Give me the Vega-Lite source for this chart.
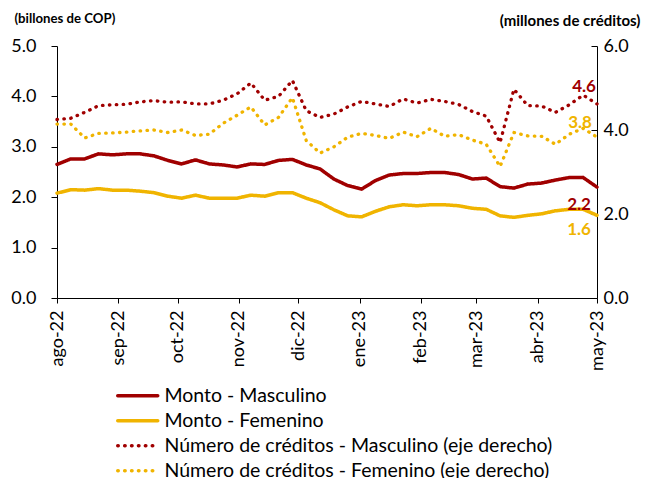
{
  "$schema": "https://vega.github.io/schema/vega-lite/v6.json",
  "width": 540,
  "height": 252,
  "autosize": {"type": "none"},
  "padding": {"left": 57, "top": 46, "right": 49, "bottom": 180},
  "background": "white",
  "config": {
    "view": {"stroke": null},
    "font": "Lato",
    "axis": {"grid": false, "domainColor": "black", "tickColor": "black", "labelColor": "black", "labelFont": "Lato", "labelFontSize": 18, "titleFont": "Lato", "titleColor": "black", "domainWidth": 1, "tickWidth": 1},
    "legend": {"labelFont": "Lato", "labelFontSize": 19.5, "labelColor": "black"}
  },
  "data": {
    "values": [
      {"d": "2022/08/01", "MM": 2.65, "MF": 2.08, "NM": 4.25, "NF": 4.14},
      {"d": "2022/08/08", "MM": 2.76, "MF": 2.15, "NM": 4.28, "NF": 4.14},
      {"d": "2022/08/15", "MM": 2.76, "MF": 2.14, "NM": 4.42, "NF": 3.81},
      {"d": "2022/08/22", "MM": 2.86, "MF": 2.17, "NM": 4.58, "NF": 3.92},
      {"d": "2022/08/29", "MM": 2.84, "MF": 2.14, "NM": 4.60, "NF": 3.93},
      {"d": "2022/09/05", "MM": 2.86, "MF": 2.14, "NM": 4.61, "NF": 3.95},
      {"d": "2022/09/12", "MM": 2.86, "MF": 2.12, "NM": 4.67, "NF": 3.98},
      {"d": "2022/09/19", "MM": 2.82, "MF": 2.09, "NM": 4.70, "NF": 4.00},
      {"d": "2022/09/26", "MM": 2.73, "MF": 2.02, "NM": 4.66, "NF": 3.94},
      {"d": "2022/10/03", "MM": 2.66, "MF": 1.98, "NM": 4.67, "NF": 4.00},
      {"d": "2022/10/10", "MM": 2.74, "MF": 2.04, "NM": 4.62, "NF": 3.87},
      {"d": "2022/10/17", "MM": 2.66, "MF": 1.98, "NM": 4.62, "NF": 3.90},
      {"d": "2022/10/24", "MM": 2.64, "MF": 1.98, "NM": 4.71, "NF": 4.16},
      {"d": "2022/10/31", "MM": 2.60, "MF": 1.98, "NM": 4.86, "NF": 4.35},
      {"d": "2022/11/07", "MM": 2.66, "MF": 2.04, "NM": 5.12, "NF": 4.55},
      {"d": "2022/11/14", "MM": 2.65, "MF": 2.02, "NM": 4.71, "NF": 4.12},
      {"d": "2022/11/21", "MM": 2.73, "MF": 2.09, "NM": 4.80, "NF": 4.30},
      {"d": "2022/11/28", "MM": 2.75, "MF": 2.09, "NM": 5.18, "NF": 4.77},
      {"d": "2022/12/05", "MM": 2.64, "MF": 1.98, "NM": 4.46, "NF": 3.75},
      {"d": "2022/12/12", "MM": 2.56, "MF": 1.89, "NM": 4.30, "NF": 3.45},
      {"d": "2022/12/19", "MM": 2.36, "MF": 1.75, "NM": 4.38, "NF": 3.60},
      {"d": "2022/12/26", "MM": 2.23, "MF": 1.63, "NM": 4.55, "NF": 3.83},
      {"d": "2023/01/02", "MM": 2.16, "MF": 1.61, "NM": 4.68, "NF": 3.92},
      {"d": "2023/01/09", "MM": 2.33, "MF": 1.72, "NM": 4.62, "NF": 3.87},
      {"d": "2023/01/16", "MM": 2.44, "MF": 1.81, "NM": 4.56, "NF": 3.80},
      {"d": "2023/01/23", "MM": 2.47, "MF": 1.85, "NM": 4.74, "NF": 3.95},
      {"d": "2023/01/30", "MM": 2.47, "MF": 1.83, "NM": 4.64, "NF": 3.84},
      {"d": "2023/02/06", "MM": 2.49, "MF": 1.85, "NM": 4.73, "NF": 4.04},
      {"d": "2023/02/13", "MM": 2.49, "MF": 1.85, "NM": 4.68, "NF": 3.85},
      {"d": "2023/02/20", "MM": 2.45, "MF": 1.83, "NM": 4.61, "NF": 3.89},
      {"d": "2023/02/27", "MM": 2.36, "MF": 1.78, "NM": 4.44, "NF": 3.76},
      {"d": "2023/03/06", "MM": 2.38, "MF": 1.76, "NM": 4.33, "NF": 3.66},
      {"d": "2023/03/13", "MM": 2.21, "MF": 1.63, "NM": 3.70, "NF": 3.13},
      {"d": "2023/03/20", "MM": 2.18, "MF": 1.60, "NM": 4.97, "NF": 3.94},
      {"d": "2023/03/27", "MM": 2.26, "MF": 1.64, "NM": 4.58, "NF": 3.86},
      {"d": "2023/04/03", "MM": 2.28, "MF": 1.67, "NM": 4.57, "NF": 3.85},
      {"d": "2023/04/10", "MM": 2.34, "MF": 1.73, "NM": 4.42, "NF": 3.66},
      {"d": "2023/04/17", "MM": 2.39, "MF": 1.76, "NM": 4.60, "NF": 3.90},
      {"d": "2023/04/24", "MM": 2.39, "MF": 1.76, "NM": 4.83, "NF": 4.04},
      {"d": "2023/05/01", "MM": 2.20, "MF": 1.64, "NM": 4.62, "NF": 3.83}
    ]
  },
  "transform": [{"fold": ["MM", "MF", "NM", "NF"], "as": ["k", "v"]}],
  "encoding": {
    "x": {
      "field": "d", "type": "temporal",
      "scale": {"domain": [{"year": 2022, "month": 8, "date": 1}, {"year": 2023, "month": 5, "date": 1}]},
      "axis": {
        "title": null, "tickCount": {"interval": "month", "step": 1}, "labelAngle": -90, "tickSize": 5, "labelPadding": 7,
        "labelExpr": "['ene','feb','mar','abr','may','jun','jul','ago','sep','oct','nov','dic'][month(datum.value)] + '-' + timeFormat(datum.value, '%y')",
        "labelFlush": false, "labelOverlap": false
      }
    }
  },
  "layer": [
    {
      "transform": [{"filter": {"field": "k", "oneOf": ["MM", "MF"]}}],
      "encoding": {
        "y": {
          "field": "v", "type": "quantitative",
          "scale": {"domain": [0, 5], "nice": false, "zero": true},
          "axis": {
            "values": [0, 1, 2, 3, 4, 5], "format": ".1f", "tickSize": 6, "labelPadding": 15,
            "title": "(billones de COP)", "titleAngle": 0, "titleAlign": "left", "titleBaseline": "middle",
            "titleX": -43, "titleY": -28, "titleFontSize": 13.2, "titleFontWeight": "bold"
          }
        }
      },
      "layer": [
        {
          "mark": {"type": "line", "strokeWidth": 3.5, "strokeCap": "round", "strokeJoin": "round"},
          "encoding": {
            "color": {"field": "k", "type": "nominal", "scale": {"domain": ["MM", "MF", "NM", "NF"], "range": ["#A00000", "#F0B400", "#A00000", "#F0B400"]},
              "legend": {
                "orient": "none", "legendX": 71, "legendY": 340, "title": null, "direction": "vertical",
                "symbolType": "M-4,0H4", "symbolSize": 100, "symbolStrokeWidth": 3.5, "labelOffset": 17, "rowPadding": 4,
                "labelExpr": "{'MM': 'Monto - Masculino', 'MF': 'Monto - Femenino', 'NM': 'Número de créditos - Masculino (eje derecho)', 'NF': 'Número de créditos - Femenino (eje derecho)'}[datum.value]",
                "labelLimit": 600,
                "encode": {"symbols": {"update": {"strokeCap": {"value": "round"}}}}
              }},
            "strokeDash": {"field": "k", "type": "nominal", "scale": {"domain": ["MM", "MF", "NM", "NF"], "range": [[1, 0], [1, 0], [0.5, 6.4], [0.5, 6.4]]},
              "legend": {
                "orient": "none", "legendX": 71, "legendY": 340, "title": null, "direction": "vertical",
                "symbolType": "M-4,0H4", "symbolSize": 100, "symbolStrokeWidth": 3.5, "labelOffset": 17, "rowPadding": 4,
                "labelExpr": "{'MM': 'Monto - Masculino', 'MF': 'Monto - Femenino', 'NM': 'Número de créditos - Masculino (eje derecho)', 'NF': 'Número de créditos - Femenino (eje derecho)'}[datum.value]",
                "labelLimit": 600,
                "encode": {"symbols": {"update": {"strokeCap": {"value": "round"}}}}
              }}
          }
        },
        {
          "transform": [{"filter": "datum.k == 'MM' && year(datum.d) == 2023 && month(datum.d) == 4"}],
          "mark": {"type": "text", "fontWeight": "bold", "fontSize": 17, "color": "#A00000", "dx": -18, "dy": 18},
          "encoding": {"text": {"field": "v", "type": "quantitative", "format": ".1f"}}
        },
        {
          "transform": [{"filter": "datum.k == 'MF' && year(datum.d) == 2023 && month(datum.d) == 4"}],
          "mark": {"type": "text", "fontWeight": "bold", "fontSize": 17, "color": "#F0B400", "dx": -18, "dy": 15},
          "encoding": {"text": {"field": "v", "type": "quantitative", "format": ".1f"}}
        }
      ]
    },
    {
      "transform": [{"filter": {"field": "k", "oneOf": ["NM", "NF"]}}],
      "encoding": {
        "y": {
          "field": "v", "type": "quantitative",
          "scale": {"domain": [0, 6], "nice": false, "zero": true},
          "axis": {
            "orient": "right", "values": [0, 2, 4, 6], "format": ".1f", "tickSize": -6, "labelPadding": 12,
            "title": "(millones de créditos)", "titleAngle": 0, "titleAlign": "right", "titleBaseline": "middle",
            "titleX": 43, "titleY": -26, "titleFontSize": 15, "titleFontWeight": "bold"
          }
        }
      },
      "layer": [
        {
          "mark": {"type": "line", "strokeWidth": 3.3, "strokeCap": "round", "strokeJoin": "round"},
          "encoding": {
            "color": {"field": "k", "type": "nominal", "scale": {"domain": ["MM", "MF", "NM", "NF"], "range": ["#A00000", "#F0B400", "#A00000", "#F0B400"]},
              "legend": {
                "orient": "none", "legendX": 71, "legendY": 340, "title": null, "direction": "vertical",
                "symbolType": "M-4,0H4", "symbolSize": 100, "symbolStrokeWidth": 3.5, "labelOffset": 17, "rowPadding": 4,
                "labelExpr": "{'MM': 'Monto - Masculino', 'MF': 'Monto - Femenino', 'NM': 'Número de créditos - Masculino (eje derecho)', 'NF': 'Número de créditos - Femenino (eje derecho)'}[datum.value]",
                "labelLimit": 600,
                "encode": {"symbols": {"update": {"strokeCap": {"value": "round"}}}}
              }},
            "strokeDash": {"field": "k", "type": "nominal", "scale": {"domain": ["MM", "MF", "NM", "NF"], "range": [[1, 0], [1, 0], [0.5, 6.4], [0.5, 6.4]]},
              "legend": {
                "orient": "none", "legendX": 71, "legendY": 340, "title": null, "direction": "vertical",
                "symbolType": "M-4,0H4", "symbolSize": 100, "symbolStrokeWidth": 3.5, "labelOffset": 17, "rowPadding": 4,
                "labelExpr": "{'MM': 'Monto - Masculino', 'MF': 'Monto - Femenino', 'NM': 'Número de créditos - Masculino (eje derecho)', 'NF': 'Número de créditos - Femenino (eje derecho)'}[datum.value]",
                "labelLimit": 600,
                "encode": {"symbols": {"update": {"strokeCap": {"value": "round"}}}}
              }}
          }
        },
        {
          "transform": [{"filter": "datum.k == 'NM' && year(datum.d) == 2023 && month(datum.d) == 4"}],
          "mark": {"type": "text", "fontWeight": "bold", "fontSize": 17, "color": "#A00000", "dx": -13, "dy": -17},
          "encoding": {"text": {"field": "v", "type": "quantitative", "format": ".1f"}}
        },
        {
          "transform": [{"filter": "datum.k == 'NF' && year(datum.d) == 2023 && month(datum.d) == 4"}],
          "mark": {"type": "text", "fontWeight": "bold", "fontSize": 17, "color": "#F0B400", "dx": -17, "dy": -14},
          "encoding": {"text": {"field": "v", "type": "quantitative", "format": ".1f"}}
        }
      ]
    }
  ],
  "resolve": {"scale": {"y": "independent"}}
}
